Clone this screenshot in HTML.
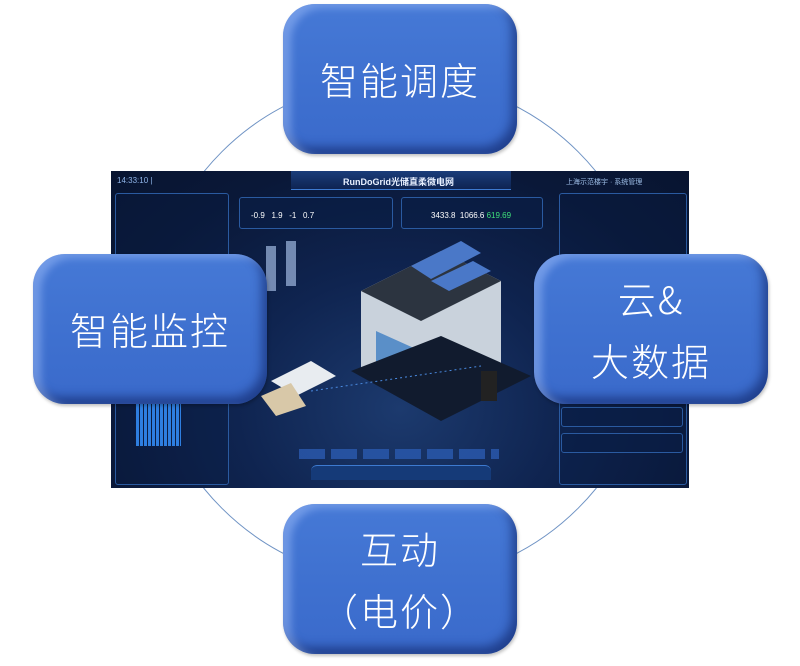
<!DOCTYPE html>
<html><head><meta charset="utf-8"><style>
html,body{margin:0;padding:0;background:#fff;width:800px;height:666px;overflow:hidden;position:relative;font-family:"Liberation Sans","Noto Sans CJK SC",sans-serif}
.box{position:absolute;width:234px;height:150px;border-radius:32px;
background:linear-gradient(180deg,#4679d6 0%,#3f71d0 50%,#3a6acb 100%);
box-shadow:inset 8px 4px 8px rgba(170,200,255,.45),inset -5px -7px 10px rgba(15,35,100,.6),1px 2px 3px rgba(0,0,0,.25);
color:#fff;text-align:center;display:flex;flex-direction:column;justify-content:center;align-items:center;font-size:38px;line-height:62px;letter-spacing:2px;font-family:"Noto Sans CJK SC",sans-serif;font-weight:300}
.dash{position:absolute;left:111px;top:171px;width:578px;height:317px;
background:radial-gradient(ellipse at 50% 75%,#1c3a6e 0%,#0f2450 40%,#0a1838 75%,#081430 100%);overflow:hidden}
.p{position:absolute;border:1px solid #2a5aa0;background:rgba(10,30,70,.6);border-radius:3px}
.t{position:absolute;color:#cfe0ff;font-size:7px;white-space:nowrap}
</style></head><body>
<svg style="position:absolute;left:0;top:0" width="800" height="666"><circle cx="400" cy="330" r="252" fill="none" stroke="#6f93c4" stroke-width="1"/></svg>
<div class="dash">
 <div style="position:absolute;left:180px;top:0;width:220px;height:18px;background:linear-gradient(#1a3d7a,#0e2452);border-bottom:1px solid #3d7ad0"></div>
 <div class="t" style="left:232px;top:4px;font-size:9px;font-weight:bold;color:#e8f0ff">RunDoGrid光储直柔微电网</div>
 <div class="t" style="left:6px;top:5px;font-size:8px;color:#8fb4e8">14:33:10 |</div>
 <div class="t" style="left:455px;top:6px;color:#9fbfe8">上海示范楼宇 · 系统管理</div>
 <div class="p" style="left:128px;top:26px;width:152px;height:30px"></div>
 <div class="t" style="left:140px;top:40px;font-size:8px;color:#fff">-0.9 &nbsp; 1.9 &nbsp; -1 &nbsp; 0.7</div>
 <div class="p" style="left:290px;top:26px;width:140px;height:30px"></div>
 <div class="t" style="left:320px;top:40px;font-size:8px;color:#fff">3433.8 &nbsp;1066.6 <span style="color:#3ee07a">619.69</span></div>
 <div class="p" style="left:4px;top:22px;width:112px;height:290px;background:rgba(10,30,70,.3)"></div>
 <div class="p" style="left:448px;top:22px;width:126px;height:290px;background:rgba(10,30,70,.3)"></div>
 <div style="position:absolute;left:25px;top:230px;width:45px;height:45px;background:repeating-linear-gradient(90deg,#2e7ee0 0 3px,transparent 3px 4px)"></div>
 <div class="p" style="left:450px;top:236px;width:120px;height:18px"></div>
 <div class="p" style="left:450px;top:262px;width:120px;height:18px"></div>
 <svg style="position:absolute;left:0;top:0" width="578" height="317">
  <polygon points="250,120 330,80 390,110 390,200 320,235 250,200" fill="#c9d2dc"/>
  <polygon points="250,120 330,80 390,110 310,150" fill="#2c3440"/>
  <polygon points="265,160 305,178 305,215 265,197" fill="#5a8fc8"/>
  <polygon points="300,95 350,70 370,82 320,108" fill="#4a78c8"/>
  <polygon points="320,110 362,90 380,100 338,120" fill="#4a78c8"/>
  <polygon points="240,200 330,250 420,205 330,165" fill="#111b2e"/>
  <polygon points="160,210 200,190 225,205 185,225" fill="#e8ecf0"/>
  <polygon points="150,225 180,212 195,235 165,245" fill="#d8c8a8"/>
  <rect x="370" y="200" width="16" height="30" fill="#222"/>
  <rect x="155" y="75" width="10" height="45" fill="#9fb8e0" opacity=".7"/>
  <rect x="175" y="70" width="10" height="45" fill="#9fb8e0" opacity=".7"/>
  <path d="M200 220 L370 195" stroke="#4a8ae0" stroke-dasharray="2,3"/>
 </svg>
 <div style="position:absolute;left:188px;top:278px;width:200px;height:10px;background:repeating-linear-gradient(90deg,#2a5ab0 0 26px,transparent 26px 32px);opacity:.8"></div>
 <div style="position:absolute;left:200px;top:294px;width:180px;height:14px;background:#153a78;border-top:1px solid #3d7ad0;border-radius:6px 6px 0 0"></div>
</div>
<div class="box" style="left:283px;top:4px">智能调度</div>
<div class="box" style="left:33px;top:254px">智能监控</div>
<div class="box" style="left:534px;top:254px"><div>云&amp;</div><div>大数据</div></div>
<div class="box" style="left:283px;top:504px"><div>互动</div><div>（电价）</div></div>
</body></html>
